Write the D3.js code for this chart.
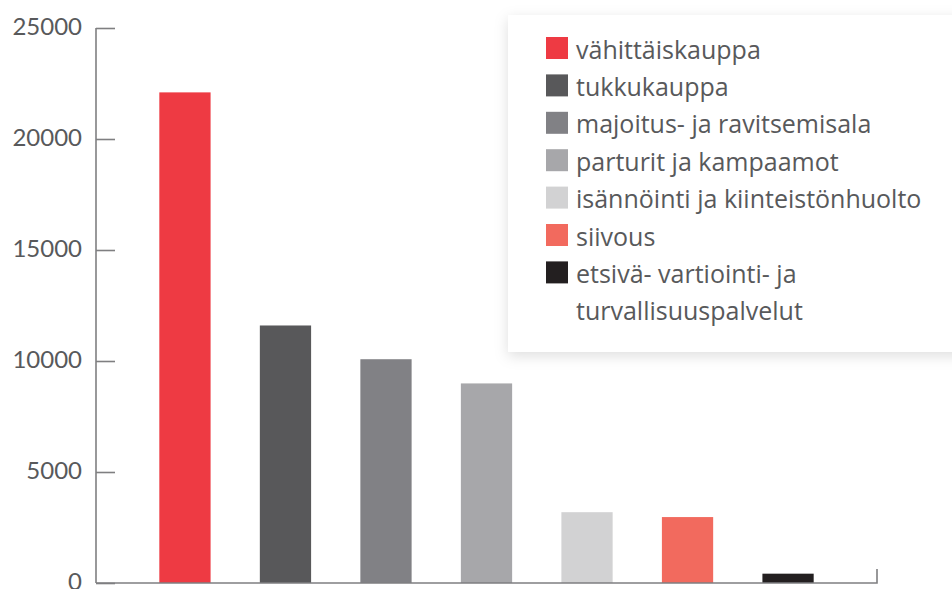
<!DOCTYPE html>
<html>
<head>
<meta charset="utf-8">
<script src="https://cdn.jsdelivr.net/npm/d3@7"></script>
<style>
  body { margin: 0; background: #fff; }
  text { font-family: Lato, "Noto Sans", sans-serif; fill: #58595b; }
  .legend text { font-family: "Open Sans", "Noto Sans", sans-serif; }
</style>
</head>
<body>
<script>
// toimialat ja arvot
var categories = ["vähittäiskauppa", "tukkukauppa", "majoitus- ja ravitsemisala",
    "parturit ja kampaamot", "isännöinti ja kiinteistönhuolto", "siivous",
    "etsivä- vartiointi- ja turvallisuuspalvelut"];
var values = [22100, 11600, 10080, 8990, 3190, 2970, 420];
var colors = ["#ee3a43", "#58585a", "#818185", "#a7a7aa", "#d2d2d3", "#f26a5e", "#231f20"];
var legendLines = [["vähittäiskauppa"], ["tukkukauppa"], ["majoitus- ja ravitsemisala"],
    ["parturit ja kampaamot"], ["isännöinti ja kiinteistönhuolto"], ["siivous"],
    ["etsivä- vartiointi- ja", "turvallisuuspalvelut"]];
var yTicks = [0, 5000, 10000, 15000, 20000, 25000];

var width = 952, height = 589;
var margin = {top: 28, right: 75, bottom: 6, left: 96};

var svg = d3.select("body").append("svg")
    .attr("width", width)
    .attr("height", height);

var defs = svg.append("defs");
var f = defs.append("filter").attr("id", "shadow")
    .attr("x", "-10%").attr("y", "-10%").attr("width", "120%").attr("height", "130%");
f.append("feDropShadow")
    .attr("dx", 0).attr("dy", 4)
    .attr("stdDeviation", 7)
    .attr("flood-color", "#000")
    .attr("flood-opacity", 0.13);

var y = d3.scaleLinear()
    .domain([0, 25000])
    .range([height - margin.bottom, margin.top]);

var x = d3.scaleBand()
    .domain(categories)
    .range([margin.left, width - margin.right])
    .paddingInner(0.49)
    .paddingOuter(0.63);

// palkit
svg.append("g")
    .selectAll("rect")
    .data(values)
    .enter().append("rect")
    .attr("x", function(d, i) { return x(categories[i]); })
    .attr("y", function(d) { return y(d); })
    .attr("width", x.bandwidth())
    .attr("height", function(d) { return y(0) - y(d); })
    .attr("fill", function(d, i) { return colors[i]; });

// y-akseli
var yAxis = svg.append("g")
    .attr("transform", "translate(" + margin.left + ",0)")
    .call(d3.axisRight(y).tickValues(yTicks).tickSize(19).tickFormat(""));
yAxis.select(".domain").attr("stroke", "#7f7f81").attr("stroke-width", 1.6)
    .attr("d", "M0," + y(25000) + "V" + y(0));
yAxis.selectAll(".tick line").attr("stroke", "#7f7f81").attr("stroke-width", 1.6);

svg.append("g")
    .selectAll("text")
    .data(yTicks)
    .enter().append("text")
    .attr("x", 82)
    .attr("y", function(d) { return y(d); })
    .attr("dy", "0.3em")
    .attr("text-anchor", "end")
    .style("font-size", "24px")
    .text(function(d) { return d; });

// x-akseli
svg.append("path")
    .attr("d", "M" + margin.left + "," + y(0) + "H" + (width - margin.right) + "V" + (y(0) - 14))
    .attr("fill", "none")
    .attr("stroke", "#7f7f81")
    .attr("stroke-width", 1.6);

// selite
var lg = svg.append("g").attr("class", "legend");
lg.append("rect")
    .attr("x", 508).attr("y", 15)
    .attr("width", 460).attr("height", 337)
    .attr("fill", "#fff")
    .attr("filter", "url(#shadow)");

var rowH = 37.4;
var rows = lg.selectAll("g.row")
    .data(legendLines)
    .enter().append("g")
    .attr("class", "row")
    .attr("transform", function(d, i) { return "translate(546," + (37 + i * rowH) + ")"; });

rows.append("rect")
    .attr("width", 22).attr("height", 22)
    .attr("fill", function(d, i) { return colors[i]; });

rows.selectAll("text")
    .data(function(d) { return d; })
    .enter().append("text")
    .attr("x", 30)
    .attr("y", function(d, j) { return 21.5 + j * 37; })
    .style("font-size", "25px")
    .text(function(d) { return d; });
</script>
</body>
</html>
